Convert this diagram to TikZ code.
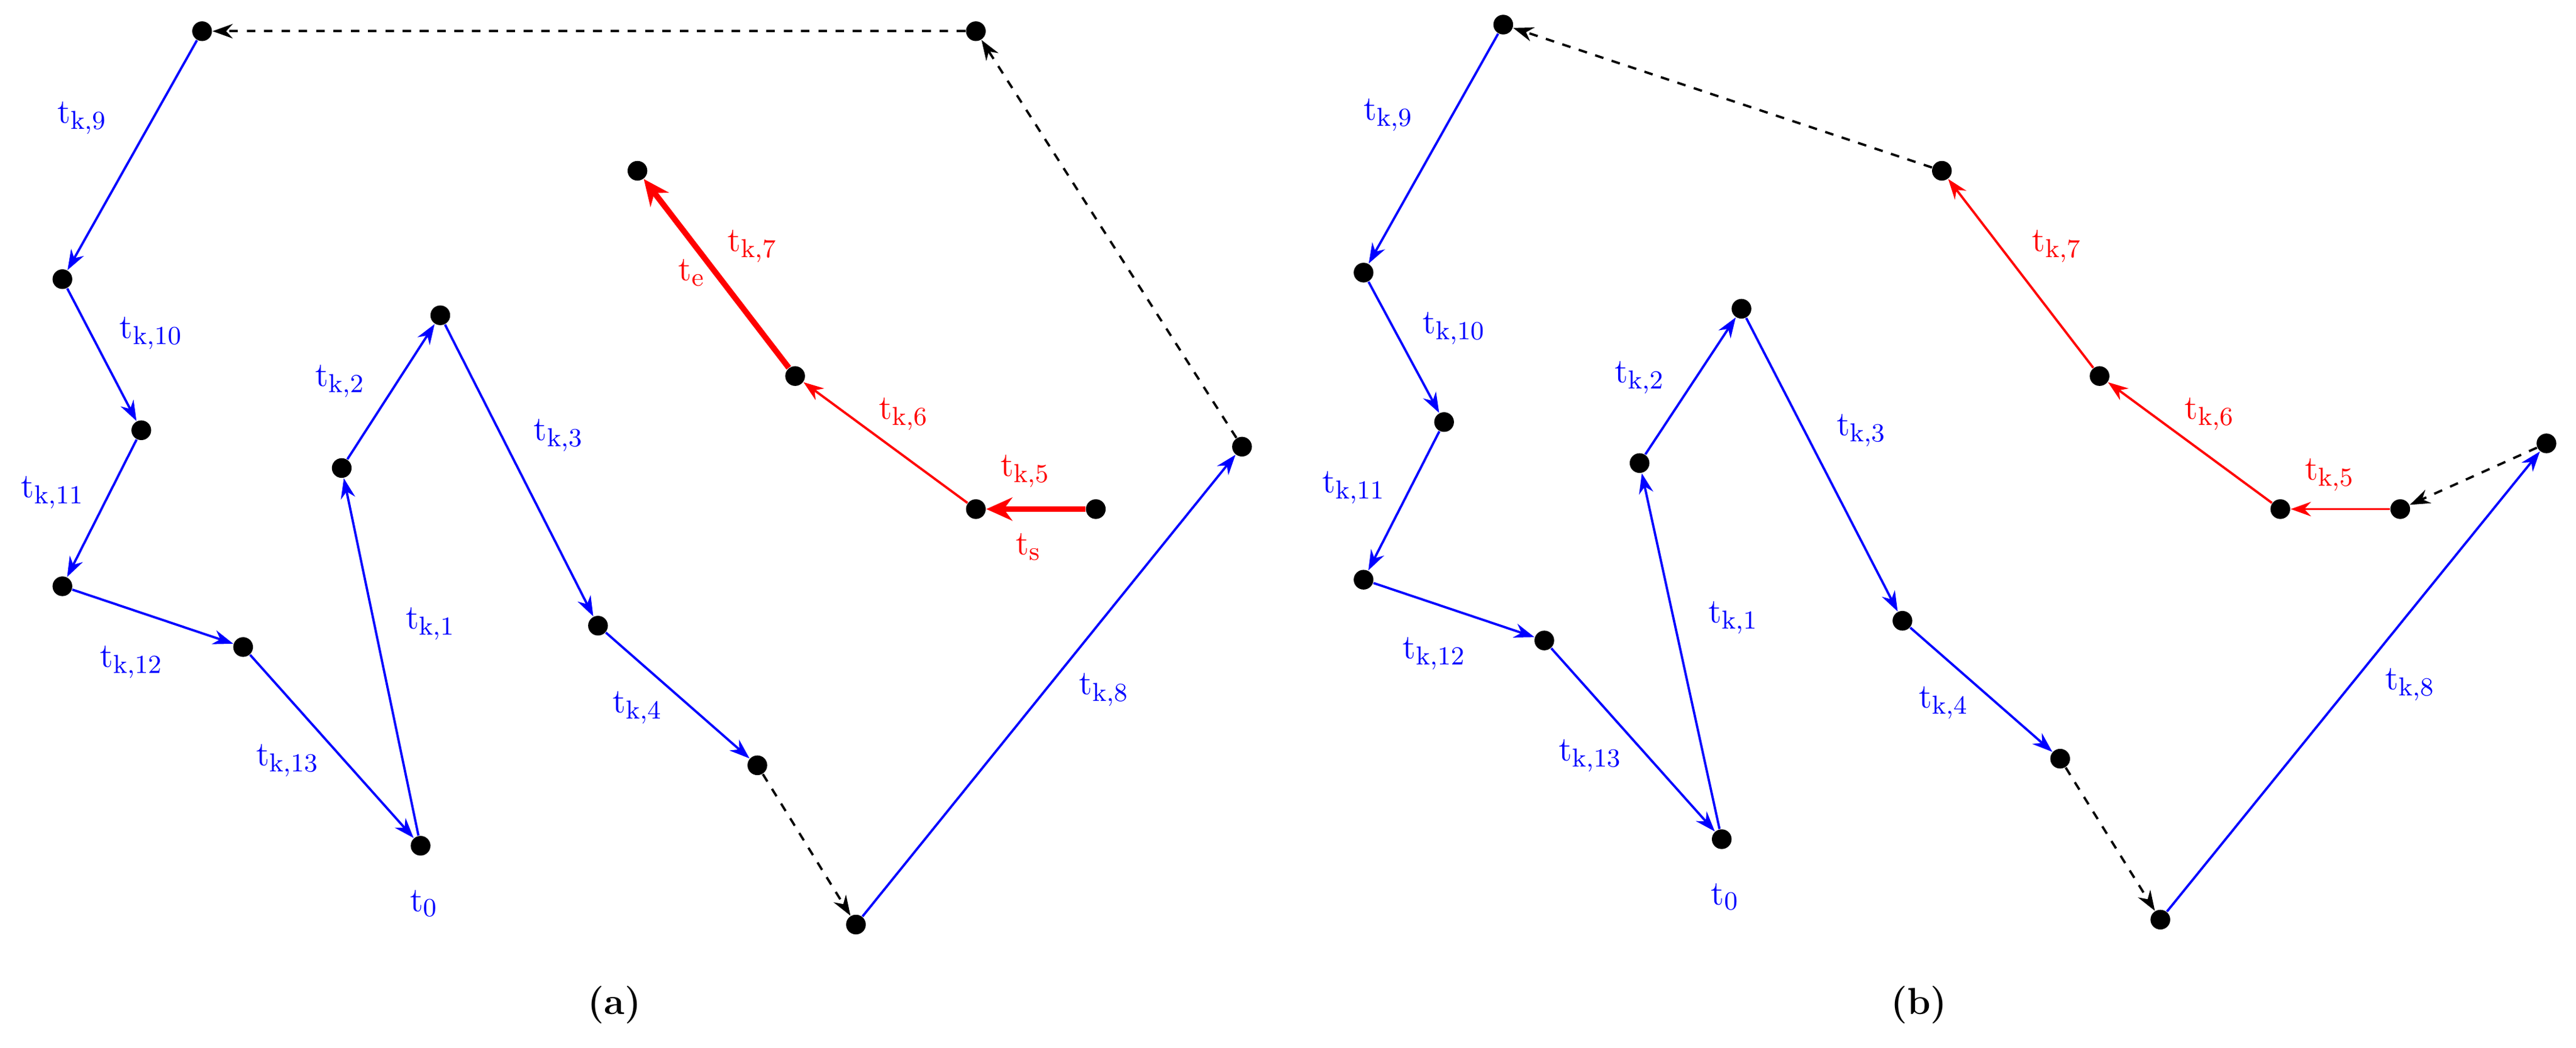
\documentclass[tikz,border=0pt]{standalone}
\usetikzlibrary{arrows.meta}
\begin{document}
\begin{tikzpicture}[x=0.02cm,y=-0.02cm,
  dot/.style={circle,fill=black,inner sep=0pt,minimum size=0.24cm},
  bl/.style={blue,line width=0.8pt,-{Stealth[length=7pt,width=5pt]}},
  rd/.style={red,line width=0.8pt,-{Stealth[length=7pt,width=5pt]}},
  rdt/.style={red,line width=2pt,-{Stealth[length=9pt,width=8pt]}},
  dsh/.style={black,dashed,line width=0.8pt,-{Stealth[length=7pt,width=5pt]}},
  lb/.style={blue,font=\fontsize{13}{15}\selectfont},
  lr/.style={red,font=\fontsize{13}{15}\selectfont}]
\useasboundingbox (0,0) rectangle (1568,638);
\newcommand{\tk}[1]{$\mathrm{t}_{\mathrm{k},#1}$}
% panel a
\node[dot] (a1) at (123,19) {};
\node[dot] (a2) at (594,19) {};
\node[dot] (a3) at (38,170) {};
\node[dot] (a4) at (86,262) {};
\node[dot] (a5) at (38,357) {};
\node[dot] (a6) at (148,394) {};
\node[dot] (a0) at (256,515) {};
\node[dot] (a7) at (208,285) {};
\node[dot] (a8) at (268,192) {};
\node[dot] (a9) at (364,381) {};
\node[dot] (a10) at (461,466) {};
\node[dot] (a11) at (521,563) {};
\node[dot] (a12) at (756,272) {};
\node[dot] (as) at (667,310) {};
\node[dot] (a13) at (594,310) {};
\node[dot] (a14) at (484,229) {};
\node[dot] (ae) at (388,104) {};
\draw[dsh] (a2)--(a1);
\draw[bl] (a1)--(a3);
\draw[bl] (a3)--(a4);
\draw[bl] (a4)--(a5);
\draw[bl] (a5)--(a6);
\draw[bl] (a6)--(a0);
\draw[bl] (a0)--(a7);
\draw[bl] (a7)--(a8);
\draw[bl] (a8)--(a9);
\draw[bl] (a9)--(a10);
\draw[dsh] (a10)--(a11);
\draw[bl] (a11)--(a12);
\draw[dsh] (a12)--(a2);
\draw[rdt] (as)--(a13);
\draw[rd] (a13)--(a14);
\draw[rdt] (a14)--(ae);
\node[lb] (la9) at (50,72) {\tk{9}};
\node[lb] (la10) at (92,203) {\tk{10}};
\node[lb] (la11) at (32,300) {\tk{11}};
\node[lb] (la12) at (80,403) {\tk{12}};
\node[lb] (la13) at (175,463) {\tk{13}};
\node[lb] (la0) at (258,550) {$\mathrm{t}_0$};
\node[lb] (la1) at (262,380) {\tk{1}};
\node[lb] (la2) at (207,232) {\tk{2}};
\node[lb] (la3) at (340,265) {\tk{3}};
\node[lb] (la4) at (388,431) {\tk{4}};
\node[lb] (la8) at (672,420) {\tk{8}};
\node[lr] (la5) at (624,287) {\tk{5}};
\node[lr] (las) at (626,333) {$\mathrm{t}_\mathrm{s}$};
\node[lr] (la6) at (550,252) {\tk{6}};
\node[lr] (la7) at (458,150) {\tk{7}};
\node[lr] (lae) at (421,166) {$\mathrm{t}_\mathrm{e}$};
\node[font=\fontsize{13}{15}\selectfont\bfseries] (capa) at (374,612) {(a)};
% panel b
\node[dot] (b1) at (915,15) {};
\node[dot] (b2) at (1182,104) {};
\node[dot] (b3) at (830,166) {};
\node[dot] (b4) at (879,257) {};
\node[dot] (b5) at (830,353) {};
\node[dot] (b6) at (940,390) {};
\node[dot] (b0) at (1048,511) {};
\node[dot] (b7) at (998,282) {};
\node[dot] (b8) at (1060,188) {};
\node[dot] (b9) at (1158,378) {};
\node[dot] (b10) at (1254,462) {};
\node[dot] (b11) at (1315,560) {};
\node[dot] (b12) at (1550,270) {};
\node[dot] (bs) at (1461,310) {};
\node[dot] (b13) at (1388,310) {};
\node[dot] (b14) at (1278,229) {};
\draw[dsh] (b2)--(b1);
\draw[bl] (b1)--(b3);
\draw[bl] (b3)--(b4);
\draw[bl] (b4)--(b5);
\draw[bl] (b5)--(b6);
\draw[bl] (b6)--(b0);
\draw[bl] (b0)--(b7);
\draw[bl] (b7)--(b8);
\draw[bl] (b8)--(b9);
\draw[bl] (b9)--(b10);
\draw[dsh] (b10)--(b11);
\draw[bl] (b11)--(b12);
\draw[dsh] (b12)--(bs);
\draw[rd] (bs)--(b13);
\draw[rd] (b13)--(b14);
\draw[rd] (b14)--(b2);
\node[lb] (lb9) at (845,70) {\tk{9}};
\node[lb] (lb10) at (885,200) {\tk{10}};
\node[lb] (lb11) at (824,297) {\tk{11}};
\node[lb] (lb12) at (873,398) {\tk{12}};
\node[lb] (lb13) at (968,460) {\tk{13}};
\node[lb] (lb0) at (1050,546) {$\mathrm{t}_0$};
\node[lb] (lb1) at (1055,376) {\tk{1}};
\node[lb] (lb2) at (998,230) {\tk{2}};
\node[lb] (lb3) at (1133,262) {\tk{3}};
\node[lb] (lb4) at (1183,428) {\tk{4}};
\node[lb] (lb8) at (1467,417) {\tk{8}};
\node[lr] (lb5) at (1418,289) {\tk{5}};
\node[lr] (lb6) at (1345,252) {\tk{6}};
\node[lr] (lb7) at (1252,150) {\tk{7}};
\node[font=\fontsize{13}{15}\selectfont\bfseries] (capb) at (1168,612) {(b)};
\end{tikzpicture}
\end{document}
